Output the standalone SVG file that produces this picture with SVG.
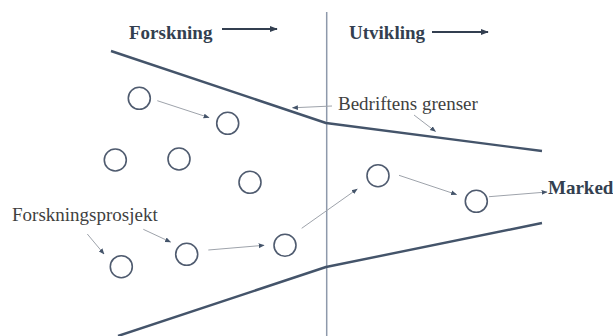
<svg xmlns="http://www.w3.org/2000/svg" width="613" height="336" viewBox="0 0 613 336">
  <style>
    .title { font-family: "Liberation Serif", "Times New Roman", serif; font-weight: bold; font-size: 19px; fill: #333f50; }
    .label { font-family: "Liberation Serif", "Times New Roman", serif; font-size: 19px; fill: #3f3f3f; }
    .node circle { fill: none; stroke: #4f5b6f; stroke-width: 1.6; }
    .bound { fill: none; stroke: #44546a; stroke-width: 2.4; stroke-linejoin: round; }
    .divider { stroke: #8e99ab; stroke-width: 1.5; }
    .thin { fill: none; stroke: #9ea3ab; stroke-width: 1; marker-end: url(#tip); }
    .head { fill: none; stroke: #333f50; stroke-width: 2.2; marker-end: url(#bigtip); }
  </style>
  <defs>
    <marker id="tip" viewBox="0 0 10 10" refX="9" refY="5" markerWidth="6" markerHeight="6" markerUnits="userSpaceOnUse" orient="auto">
      <path d="M0,1 L10,5 L0,9 Z" fill="#44546a"/>
    </marker>
    <marker id="bigtip" viewBox="0 0 10 10" refX="9" refY="5" markerWidth="8" markerHeight="8" markerUnits="userSpaceOnUse" orient="auto">
      <path d="M0,1 L10,5 L0,9 Z" fill="#333f50"/>
    </marker>
  </defs>

  <!-- phase divider -->
  <line class="divider" x1="326.7" y1="12" x2="326.7" y2="336"/>

  <!-- phase headings -->
  <g id="heading-forskning">
    <text class="title" x="129" y="39">Forskning</text>
  </g>
  <g id="heading-utvikling">
    <text class="title" x="349" y="39">Utvikling</text>
  </g>

  <!-- company boundaries -->
  <g id="boundaries">
    <polyline class="bound" points="111,51 326,123 542,151"/>
    <polyline class="bound" points="118,336 326,267 542,223"/>
  </g>

  <!-- labels -->
  <g id="label-grenser">
    <text class="label" x="338" y="110">Bedriftens grenser</text>
  </g>
  <g id="label-prosjekt">
    <text class="label" x="12" y="221">Forskningsprosjekt</text>
  </g>
  <g id="label-marked">
    <text class="title" x="548" y="194">Marked</text>
  </g>

  <!-- projects -->
  <g id="p1" class="node"><circle cx="139.3" cy="98.3" r="11"/></g>
  <g id="p2" class="node"><circle cx="227.7" cy="123.3" r="11"/></g>
  <g id="p3" class="node"><circle cx="115.3" cy="160" r="11"/></g>
  <g id="p4" class="node"><circle cx="179" cy="159" r="11"/></g>
  <g id="p5" class="node"><circle cx="250" cy="182.3" r="11"/></g>
  <g id="p6" class="node"><circle cx="121.3" cy="266.7" r="11"/></g>
  <g id="p7" class="node"><circle cx="186.7" cy="254.3" r="11"/></g>
  <g id="p8" class="node"><circle cx="285" cy="245.3" r="11"/></g>
  <g id="p9" class="node"><circle cx="378" cy="175.7" r="11"/></g>
  <g id="p10" class="node"><circle cx="476.3" cy="201.3" r="11"/></g>

  <!-- connectors -->
  <g id="connectors">
    <line class="head" x1="222" y1="29" x2="277" y2="29"/>
    <line class="head" x1="432" y1="32" x2="488" y2="32"/>
    <line class="thin" x1="157.3" y1="100.7" x2="209" y2="117.6"/>
    <line class="thin" x1="332" y1="106" x2="292.5" y2="107.8"/>
    <line class="thin" x1="414" y1="115" x2="435.5" y2="131.5"/>
    <line class="thin" x1="87.3" y1="234" x2="104" y2="254"/>
    <line class="thin" x1="143.3" y1="229.3" x2="170.5" y2="242"/>
    <line class="thin" x1="208.3" y1="250" x2="264" y2="245.3"/>
    <line class="thin" x1="301.7" y1="228.3" x2="357.2" y2="189"/>
    <line class="thin" x1="399" y1="175.3" x2="456.5" y2="194.5"/>
    <line class="thin" x1="489" y1="196.7" x2="547" y2="192"/>
  </g>
</svg>
